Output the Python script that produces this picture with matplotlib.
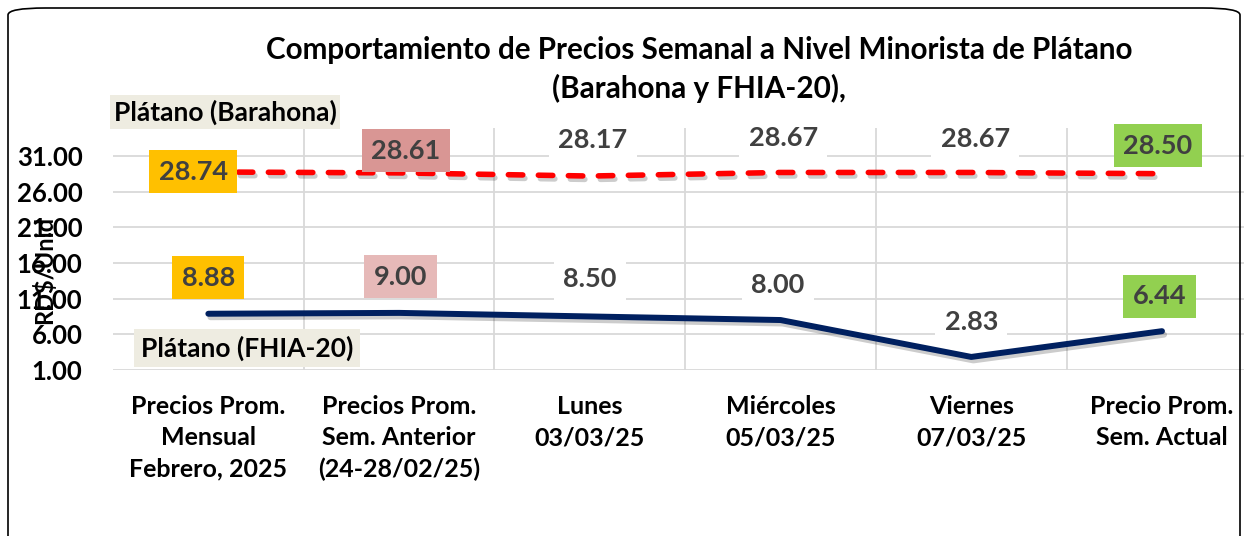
import matplotlib.pyplot as plt
import matplotlib.patheffects as pe
from matplotlib.patches import FancyBboxPatch

categorias = ["Precios Prom.\nMensual\nFebrero, 2025",
              "Precios Prom.\nSem. Anterior\n(24-28/02/25)",
              "Lunes\n03/03/25",
              "Miércoles\n05/03/25",
              "Viernes\n07/03/25",
              "Precio Prom.\nSem. Actual"]
barahona = [28.74, 28.61, 28.17, 28.67, 28.67, 28.50]
fhia = [8.88, 9.00, 8.50, 8.00, 2.83, 6.44]
yticks = [1, 6, 11, 16, 21, 26, 31]

# colores de fondo de las etiquetas
fondo_bar = ['#FFC000', '#D99694', 'white', 'white', 'white', '#92D050']
fondo_fhia = ['#FFC000', '#E6B9B8', 'white', 'white', 'white', '#92D050']
# desplazamientos de etiquetas en puntos
off_bar = [(-11, 0), (5, 16), (2, 26), (2, 25), (3, 24), (-3, 20)]
off_fhia = [(0, 26), (1, 26), (0, 27), (-2, 25), (0, 25), (-2, 25)]

plt.rcParams['font.family'] = ['Lato', 'DejaVu Sans']
plt.rcParams['font.weight'] = 'bold'

W, H = 1244, 536
fig = plt.figure(figsize=(W / 100, H / 100), dpi=100)

# marco redondeado
marco = FancyBboxPatch((8 / W, -30 / H), 1232 / W, (H - 8 + 30) / H,
                       boxstyle="round,pad=0,rounding_size=0.03",
                       transform=fig.transFigure, fill=False,
                       edgecolor='black', lw=1.2, mutation_aspect=H / W)
fig.patches.append(marco)

ax = fig.add_axes([113 / W, (H - 370) / H, (W - 113) / W, (370 - 128) / H])
x = list(range(len(categorias)))

sombra = [pe.SimpleLineShadow(offset=(1.5, -2.5), alpha=0.2), pe.Normal()]
ax.plot(x, barahona, color='#FF0000', lw=4, ls=(0, (2.6, 2.8)),
        dash_capstyle='round', path_effects=sombra, zorder=3)
ax.plot(x, fhia, color='#002060', lw=4.3, solid_capstyle='round',
        solid_joinstyle='round', path_effects=sombra, zorder=3)

for i in x:
    ax.annotate(f"{barahona[i]:.2f}", (i, barahona[i]), xytext=off_bar[i],
                textcoords='offset points', ha='center', va='center',
                fontsize=19.5, color='#404040', fontweight='bold', zorder=4,
                bbox=dict(boxstyle='square,pad=0.35', fc=fondo_bar[i], ec='none'))
    ax.annotate(f"{fhia[i]:.2f}", (i, fhia[i]), xytext=off_fhia[i],
                textcoords='offset points', ha='center', va='center',
                fontsize=19.5, color='#404040', fontweight='bold', zorder=4,
                bbox=dict(boxstyle='square,pad=0.35', fc=fondo_fhia[i], ec='none'))

ax.set_xlim(-0.5, 5.43)
ax.set_ylim(1, 34.9)
ax.set_yticks(yticks)
ax.set_yticklabels([f"{v:.2f}" for v in yticks], fontsize=18.5, fontweight='bold')
ax.set_xticks(x)
ax.set_xticklabels(categorias, fontsize=18, fontweight='bold', linespacing=1.44)
ax.set_xticks([i + 0.5 for i in x[:-1]], minor=True)
ax.tick_params(axis='x', which='both', length=0, pad=18)
ax.tick_params(axis='y', length=0, pad=22)
ax.grid(axis='y', color='#D9D9D9', lw=1.3)
ax.grid(axis='x', which='minor', color='#D9D9D9', lw=1.3)
for s in ax.spines.values():
    s.set_visible(False)

ax.set_ylabel('RD$/Unid', fontsize=17, fontweight='bold')
ax.yaxis.set_label_coords((56 - 113) / (W - 113), (370 - 270) / (370 - 128))

fig.text(699 / W, 1 - 50 / H, "Comportamiento de Precios Semanal a Nivel Minorista de Plátano",
         ha='center', va='center', fontsize=21.3, fontweight='bold')
fig.text(699 / W, 1 - 88 / H, "(Barahona y FHIA-20),",
         ha='center', va='center', fontsize=21.3, fontweight='bold')

fig.text(225 / W, 1 - 112 / H, "Plátano (Barahona)", ha='center', va='center',
         fontsize=19, fontweight='bold',
         bbox=dict(boxstyle='square,pad=0.15', fc='#EEECE1', ec='none'))
fig.text(247 / W, 1 - 348 / H, "Plátano (FHIA-20)", ha='center', va='center',
         fontsize=19, fontweight='bold', zorder=5,
         bbox=dict(boxstyle='square,pad=0.25', fc='#EEECE1', ec='none'))

fig.savefig('out.png', dpi=100)
